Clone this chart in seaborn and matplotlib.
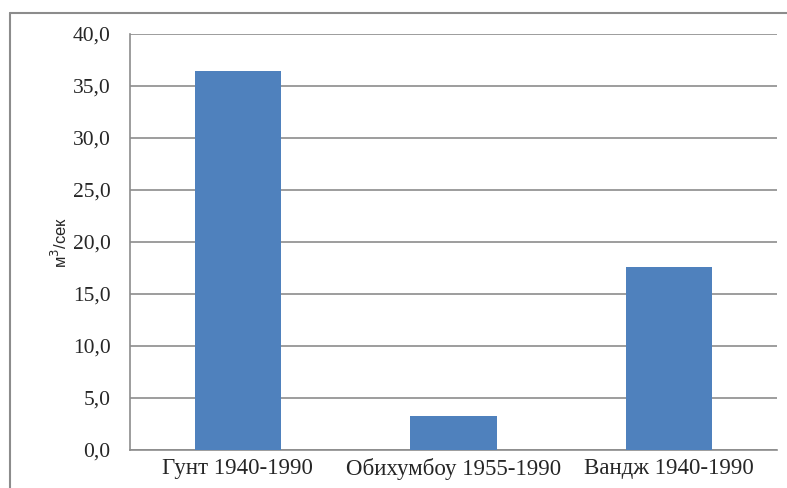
import numpy as np
import pandas as pd
import matplotlib
matplotlib.use("Agg")
import matplotlib.pyplot as plt
import seaborn as sns
from matplotlib.lines import Line2D
from matplotlib.ticker import FuncFormatter

# Data
rivers = ["Гунт 1940-1990", "Обихумбоу 1955-1990", "Вандж 1940-1990"]
flow = [36.4, 3.3, 17.6]

df = pd.DataFrame({"river": rivers, "flow": flow})

sns.set_style("white")
plt.rcParams["font.family"] = ["Liberation Serif", "DejaVu Serif"]

fig = plt.figure(figsize=(7.87, 4.88), dpi=100)
ax = fig.add_axes([130 / 787, 1 - 450 / 488, 647 / 787, 416 / 488])

sns.barplot(data=df, x="river", y="flow", color="#4f81bd", width=0.4,
            saturation=1, linewidth=0, ax=ax, zorder=3)

ax.set_ylim(0, 40)
ax.set_yticks(np.arange(0, 41, 5))
ax.yaxis.set_major_formatter(FuncFormatter(lambda v, p: f"{v:.1f}".replace(".", ",")))
ax.set_xlim(-0.5, 2.5)
ax.grid(axis="y", color="#8c8c8c", lw=1.2, zorder=0)

for s in ["top", "right"]:
    ax.spines[s].set_visible(False)
for s in ["left", "bottom"]:
    ax.spines[s].set_color("#8c8c8c")
    ax.spines[s].set_linewidth(1.2)

# y ticks point outward, x ticks sit on category boundaries
ax.tick_params(axis="y", direction="out", length=6, width=1.2, color="#8c8c8c",
               labelsize=15.5, pad=8)
ax.set_xticks([0.5, 1.5, 2.5], minor=True)
ax.tick_params(axis="x", which="major", length=0, labelsize=16.5, pad=6)
ax.tick_params(axis="x", which="minor", direction="out", length=6, width=1.2,
               color="#8c8c8c")

ax.set_xlabel("")
ax.set_ylabel("м$^3$/сек", fontfamily=["Liberation Sans", "DejaVu Sans"],
              fontsize=12, labelpad=2)

# outer chart frame (partly cropped in the original)
fig.add_artist(Line2D([10 / 787, 10 / 787], [0, 1 - 13 / 488], color="#8c8c8c",
                      lw=1.5, transform=fig.transFigure))
fig.add_artist(Line2D([10 / 787, 1], [1 - 13 / 488, 1 - 13 / 488], color="#8c8c8c",
                      lw=1.5, transform=fig.transFigure))

fig.savefig("out.png", dpi=100)
